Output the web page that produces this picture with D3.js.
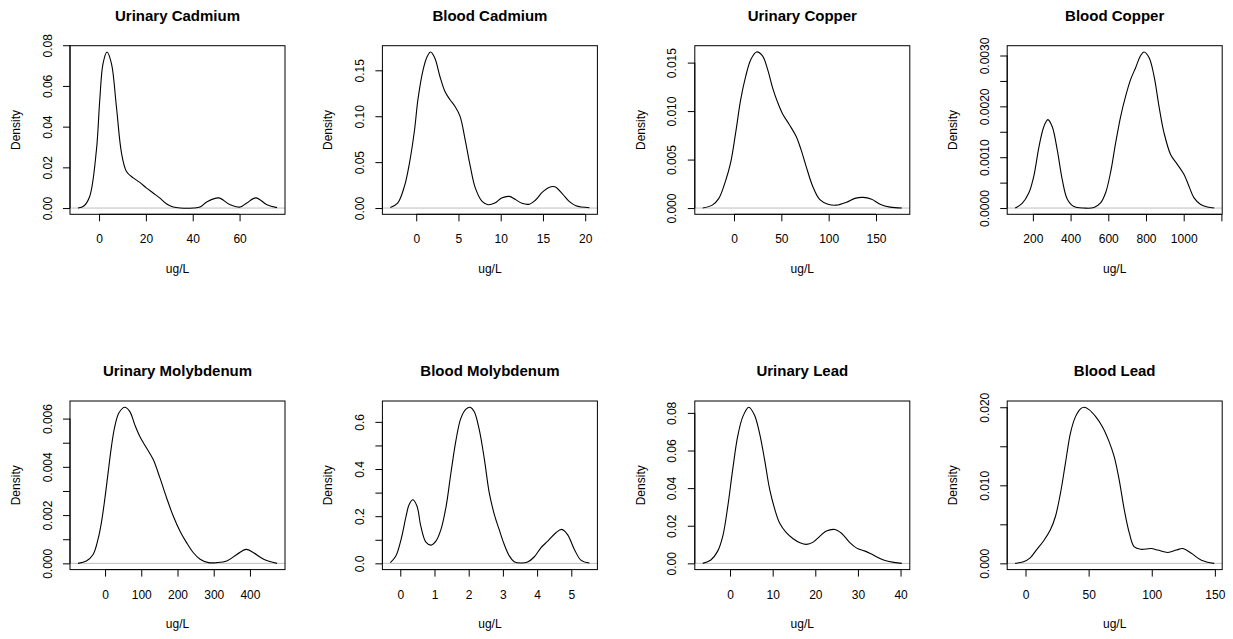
<!DOCTYPE html>
<html>
<head>
<meta charset="utf-8">
<script src="https://cdn.jsdelivr.net/npm/d3@7"></script>
<style>
body { margin: 0; background: #fff; }
text { font-family: "Liberation Sans", Arial, Helvetica, sans-serif; fill: #000; }
</style>
</head>
<body>
<div id="container"></div>
<script>
/* CONSTANTS AND GLOBALS */
const width = 1233;
const height = 639;
const plotLeft = 70, plotTop = 45.7;
const colStep = 312.4, rowStep = 355.3;
const plotW = 215, plotH = 168.6;

// panel titles, in drawing order (row by row)
const titles = ["Urinary Cadmium", "Blood Cadmium", "Urinary Copper", "Blood Copper",
  "Urinary Molybdenum", "Blood Molybdenum", "Urinary Lead", "Blood Lead"];

// density curves (x in ug/L, y = density)
const urinaryCadmiumX = [-9, -6.5, -4, -1.1, 0.3, 1.7, 3.4, 5.3, 7.4, 9.6, 11.7, 14.6, 17.4, 20.3, 23.1, 26, 28.9, 31.7, 34.6, 40.3, 43.1, 46, 51, 56, 60.3, 63.1, 67, 71.7, 76];
const urinaryCadmiumY = [0, 0.001, 0.0057, 0.0287, 0.053, 0.071, 0.0767, 0.071, 0.05, 0.027, 0.018, 0.0148, 0.0126, 0.0098, 0.0074, 0.0049, 0.002, 0.0005, 0, 0, 0.0005, 0.003, 0.005, 0.0016, 0.0005, 0.0025, 0.005, 0.0016, 0.0002];

const bloodCadmiumX = [-3.06, -2.2, -1.4, -0.8, -0.2, 0.2, 0.8, 1.3, 1.7, 2.2, 2.8, 3.4, 4.0, 4.6, 5.2, 5.8, 6.4, 7.0, 7.8, 8.5, 9.3, 10.1, 11.0, 11.7, 12.5, 13.4, 14.1, 14.9, 15.7, 16.4, 17.3, 18.1, 18.9, 20.5];
const bloodCadmiumY = [0.0007, 0.0054, 0.0236, 0.049, 0.085, 0.118, 0.15, 0.165, 0.17, 0.1634, 0.1435, 0.127, 0.118, 0.1105, 0.0996, 0.074, 0.0453, 0.0217, 0.0072, 0.0036, 0.0054, 0.0109, 0.0127, 0.0095, 0.0052, 0.0042, 0.0085, 0.017, 0.0225, 0.0232, 0.0155, 0.0072, 0.0025, 0.0004];

const urinaryCopperX = [-33, -23, -16, -8.9, -3.5, 1.8, 7.1, 12.4, 17.7, 23.8, 30.1, 35.5, 40.8, 46.1, 51.4, 58.5, 65.6, 70.9, 76.2, 83.3, 90.4, 99.3, 108, 118.8, 127.7, 136.5, 145.4, 154.3, 164.9, 177.3];
const urinaryCopperY = [0, 0.0003, 0.001, 0.0028, 0.0047, 0.0078, 0.0112, 0.0136, 0.0153, 0.0161, 0.0157, 0.0143, 0.0124, 0.0109, 0.0097, 0.0086, 0.0074, 0.006, 0.0043, 0.0022, 0.0009, 0.0004, 0.0003, 0.0006, 0.001, 0.0011, 0.0009, 0.0004, 0.0001, 0];

const bloodCopperX = [106, 143, 178.8, 205, 232, 258, 279.6, 302.7, 329, 355.8, 382, 417.7, 470.8, 524, 559, 585.8, 612, 638.9, 665.5, 692, 718.6, 745, 771.7, 789.4, 816, 842.5, 869, 895.6, 931, 966, 1001.8, 1028, 1054.9, 1090, 1125, 1162];
const bloodCopperY = [0, 0.00009, 0.0003, 0.00063, 0.0012, 0.0016, 0.00174, 0.0016, 0.00115, 0.00056, 0.00018, 0.00003, 0, 0.00001, 0.0001, 0.0003, 0.0007, 0.00128, 0.0018, 0.0022, 0.00253, 0.00276, 0.003, 0.00307, 0.00296, 0.0026, 0.002, 0.00148, 0.00105, 0.00086, 0.00066, 0.00043, 0.0002, 0.00007, 0.00002, 0];

const urinaryMolybdenumX = [-74.8, -51.7, -33, -19.4, -10.2, -0.9, 8.3, 17.6, 26.8, 38.8, 54.5, 68.4, 82.2, 96, 114.5, 133, 151.5, 170, 188.5, 207, 225.4, 243.9, 262.4, 285.5, 308.5, 336, 364, 389.8, 410, 437.9, 474.8];
const urinaryMolybdenumY = [0, 0.0001, 0.00037, 0.001, 0.00168, 0.00264, 0.00374, 0.00484, 0.00567, 0.00625, 0.00647, 0.00629, 0.00574, 0.00526, 0.00478, 0.0043, 0.00354, 0.00271, 0.00195, 0.00133, 0.00085, 0.00044, 0.00017, 0.00003, 0.00003, 0.0001, 0.00037, 0.00058, 0.00044, 0.00017, 0];

const bloodMolybdenumX = [-0.29, -0.13, 0.02, 0.17, 0.26, 0.37, 0.49, 0.6, 0.75, 0.9, 1.04, 1.19, 1.34, 1.48, 1.63, 1.77, 1.92, 2.04, 2.16, 2.31, 2.46, 2.6, 2.75, 2.89, 3.04, 3.19, 3.33, 3.53, 3.72, 3.92, 4.11, 4.31, 4.55, 4.72, 4.89, 5.09, 5.28, 5.53];
const bloodMolybdenumY = [0.003, 0.031, 0.1, 0.2, 0.25, 0.27, 0.242, 0.158, 0.09, 0.0775, 0.094, 0.144, 0.242, 0.383, 0.524, 0.615, 0.654, 0.662, 0.644, 0.566, 0.44, 0.3, 0.207, 0.144, 0.08, 0.031, 0.007, 0.0014, 0.0056, 0.028, 0.066, 0.094, 0.13, 0.144, 0.122, 0.059, 0.014, 0.0014];

const urinaryLeadX = [-6.4, -4.5, -2.9, -1.7, -0.55, 0.63, 1.8, 3.0, 4.4, 5.7, 6.9, 8.1, 9.3, 10.5, 11.6, 13.2, 14.8, 16.4, 17.9, 19.5, 21.1, 22.6, 24.6, 26.2, 28.1, 29.7, 31.7, 33.6, 36, 38.4, 40.3];
const urinaryLeadY = [0, 0.0018, 0.0065, 0.0145, 0.03, 0.05, 0.0676, 0.078, 0.083, 0.079, 0.0694, 0.0552, 0.0393, 0.0287, 0.0216, 0.0163, 0.0131, 0.011, 0.0101, 0.0113, 0.0145, 0.0172, 0.018, 0.0159, 0.011, 0.0081, 0.0065, 0.0044, 0.0018, 0.0005, 0];

const bloodLeadX = [-8.2, -1.6, 3.7, 9, 14.4, 19.7, 23.7, 27.7, 31.6, 35.6, 39.6, 43.6, 46.3, 50.3, 55.6, 60.9, 66.2, 70.2, 74.2, 78.2, 82.2, 86.2, 91.5, 99.5, 104.8, 112.8, 119.4, 124.7, 131.4, 139.4, 149.5];
const bloodLeadY = [0, 0.0002, 0.0007, 0.0018, 0.0029, 0.0043, 0.006, 0.009, 0.0128, 0.0167, 0.0188, 0.0198, 0.02, 0.0197, 0.0188, 0.0175, 0.0156, 0.0137, 0.0107, 0.0069, 0.0039, 0.0021, 0.0018, 0.0019, 0.0017, 0.0014, 0.0017, 0.0019, 0.0013, 0.0004, 0];

// tick values and labels (R drops some y labels that would overlap)
const xTickValues = [
  [0, 20, 40, 60], [0, 5, 10, 15, 20], [0, 50, 100, 150], [200, 400, 600, 800, 1000, 1200],
  [0, 100, 200, 300, 400], [0, 1, 2, 3, 4, 5], [0, 10, 20, 30, 40], [0, 50, 100, 150]
];
const xTickLabels = [
  ["0", "20", "40", "60"], ["0", "5", "10", "15", "20"], ["0", "50", "100", "150"], ["200", "400", "600", "800", "1000", ""],
  ["0", "100", "200", "300", "400"], ["0", "1", "2", "3", "4", "5"], ["0", "10", "20", "30", "40"], ["0", "50", "100", "150"]
];
const yTickValues = [
  [0, 0.02, 0.04, 0.06, 0.08], [0, 0.05, 0.10, 0.15], [0, 0.005, 0.010, 0.015], [0, 0.0005, 0.0010, 0.0015, 0.0020, 0.0025, 0.0030],
  [0, 0.001, 0.002, 0.003, 0.004, 0.005, 0.006], [0, 0.1, 0.2, 0.3, 0.4, 0.5, 0.6], [0, 0.02, 0.04, 0.06, 0.08], [0, 0.005, 0.010, 0.015, 0.020]
];
const yTickLabels = [
  ["0.00", "0.02", "0.04", "0.06", "0.08"], ["0.00", "0.05", "0.10", "0.15"], ["0.000", "0.005", "0.010", "0.015"],
  ["0.0000", "", "0.0010", "", "0.0020", "", "0.0030"],
  ["0.000", "", "0.002", "", "0.004", "", "0.006"], ["0.0", "", "0.2", "", "0.4", "", "0.6"],
  ["0.00", "0.02", "0.04", "0.06", "0.08"], ["0.000", "", "0.010", "", "0.020"]
];

const curvesX = [urinaryCadmiumX, bloodCadmiumX, urinaryCopperX, bloodCopperX, urinaryMolybdenumX, bloodMolybdenumX, urinaryLeadX, bloodLeadX];
const curvesY = [urinaryCadmiumY, bloodCadmiumY, urinaryCopperY, bloodCopperY, urinaryMolybdenumY, bloodMolybdenumY, urinaryLeadY, bloodLeadY];

// CREATE SVG
const svg = d3.select("#container")
  .append("svg")
  .attr("width", width)
  .attr("height", height)
  .style("background-color", "white");

titles.forEach((title, i) => {
  const col = i % 4, row = Math.floor(i / 4);
  const xs = curvesX[i], ys = curvesY[i];
  const pts = xs.map((x, k) => [x, ys[k]]);

  const g = svg.append("g")
    .attr("transform", `translate(${plotLeft + col * colStep},${plotTop + row * rowStep})`);

  // R style 4% padding around the data range
  const [x0, x1] = d3.extent(xs);
  const yMax = d3.max(ys);
  const xScale = d3.scaleLinear()
    .domain([x0 - 0.04 * (x1 - x0), x1 + 0.04 * (x1 - x0)])
    .range([0, plotW]);
  const yScale = d3.scaleLinear()
    .domain([-0.04 * yMax, 1.04 * yMax])
    .range([plotH, 0]);

  // zero line
  g.append("line")
    .attr("x1", 0).attr("x2", plotW)
    .attr("y1", yScale(0)).attr("y2", yScale(0))
    .attr("stroke", "#bebebe")
    .attr("stroke-width", 1);

  // density curve
  const line = d3.line()
    .x(d => xScale(d[0]))
    .y(d => yScale(d[1]))
    .curve(d3.curveCatmullRom.alpha(0.5));

  g.append("path")
    .datum(pts)
    .attr("d", line)
    .attr("fill", "none")
    .attr("stroke", "black")
    .attr("stroke-width", 1.1);

  // box
  g.append("rect")
    .attr("x", 0).attr("y", 0)
    .attr("width", plotW).attr("height", plotH)
    .attr("fill", "none")
    .attr("stroke", "black")
    .attr("stroke-width", 1);

  // X AXIS
  const xT = xTickValues[i];
  const xAxis = g.append("g")
    .attr("transform", `translate(0,${plotH})`)
    .call(d3.axisBottom(xScale)
      .tickValues(xT)
      .tickFormat((d, k) => xTickLabels[i][k])
      .tickSize(7)
      .tickSizeOuter(0)
      .tickPadding(13.5))
    .attr("font-size", 12);
  xAxis.select(".domain").remove();
  xAxis.append("line")
    .attr("x1", xScale(xT[0])).attr("x2", xScale(xT[xT.length - 1]))
    .attr("stroke", "black");

  // Y AXIS
  const yT = yTickValues[i];
  const yAxis = g.append("g")
    .call(d3.axisLeft(yScale)
      .tickValues(yT)
      .tickFormat((d, k) => yTickLabels[i][k])
      .tickSize(7)
      .tickSizeOuter(0))
    .attr("font-size", 12);
  yAxis.select(".domain").remove();
  yAxis.append("line")
    .attr("y1", yScale(yT[0])).attr("y2", yScale(yT[yT.length - 1]))
    .attr("stroke", "black");
  yAxis.selectAll(".tick text")
    .attr("x", 0)
    .attr("dy", 0)
    .attr("text-anchor", "middle")
    .attr("transform", "translate(-18.5,0) rotate(-90)");

  // LABELS
  g.append("text")
    .attr("x", plotW / 2)
    .attr("y", -25.2)
    .attr("text-anchor", "middle")
    .style("font-size", "15px")
    .style("font-weight", "bold")
    .text(title);

  g.append("text")
    .attr("x", plotW / 2)
    .attr("y", plotH + 58.4)
    .attr("text-anchor", "middle")
    .style("font-size", "12px")
    .text("ug/L");

  g.append("text")
    .attr("transform", `translate(-50,${plotH / 2}) rotate(-90)`)
    .attr("text-anchor", "middle")
    .style("font-size", "12px")
    .text("Density");
});
</script>
</body>
</html>
